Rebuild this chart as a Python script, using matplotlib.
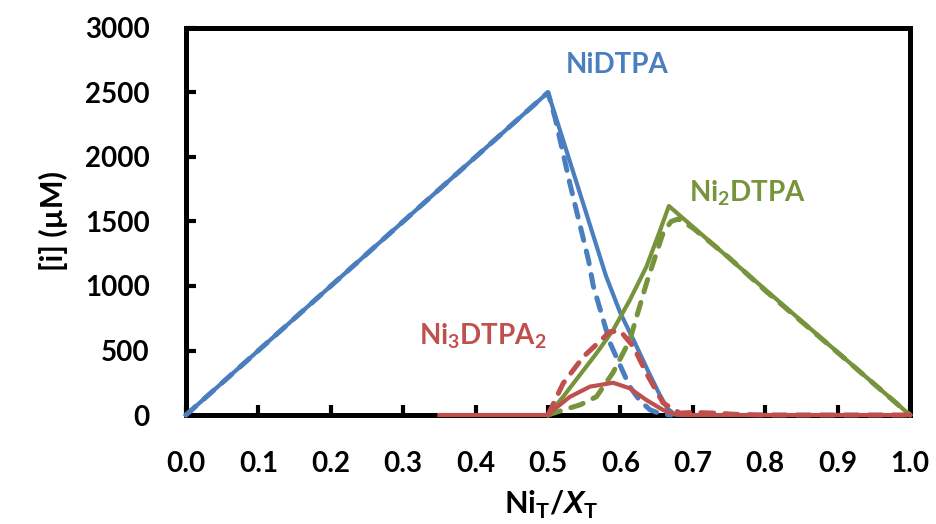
import matplotlib
matplotlib.use("Agg")
import matplotlib.pyplot as plt

# ---- data ----
blue_solid_x = [0.0, 0.5, 0.55, 0.58, 0.60, 0.62, 0.64, 0.655, 0.665, 0.675, 0.685]
blue_solid_y = [0, 2500, 1615, 1080, 790, 560, 320, 150, 50, 5, 0]

blue_dash_x = [0.0, 0.5, 0.51, 0.53, 0.556, 0.5626, 0.5856, 0.60, 0.613, 0.627, 0.641, 0.655, 0.67]
blue_dash_y = [0, 2500, 2300, 1800, 1200, 1000, 560, 380, 220, 110, 40, 10, 0]

green_solid_x = [0.5, 0.521, 0.544, 0.567, 0.59, 0.613, 0.636, 0.655, 0.667, 1.0]
green_solid_y = [0, 142, 310, 478, 659, 891, 1150, 1434, 1620, 0]

green_dash_x = [0.5, 0.521, 0.545, 0.567, 0.59, 0.613, 0.636, 0.659, 0.67, 0.68, 0.70, 0.75, 0.80, 0.90, 1.0]
green_dash_y = [0, 39, 80, 142, 330, 581, 1021, 1411, 1500, 1520, 1450, 1220, 965, 485, 0]

red_solid_x = [0.35, 0.5, 0.51, 0.53, 0.558, 0.59, 0.613, 0.636, 0.659, 0.675, 0.69, 1.0]
red_solid_y = [0, 0, 50, 140, 220, 250, 207, 116, 39, 5, 0, 0]

red_dash_x = [0.5, 0.521, 0.549, 0.5856, 0.60, 0.618, 0.636, 0.659, 0.682, 0.70, 0.73, 0.76, 0.80, 1.0]
red_dash_y = [0, 246, 452, 646, 650, 530, 323, 93, 15, 20, 15, 5, 0, 0]

x_ticks = [0.0, 0.1, 0.2, 0.3, 0.4, 0.5, 0.6, 0.7, 0.8, 0.9, 1.0]
x_tick_labels = ["0.0", "0.1", "0.2", "0.3", "0.4", "0.5", "0.6", "0.7", "0.8", "0.9", "1.0"]
y_ticks = [0, 500, 1000, 1500, 2000, 2500, 3000]

BLUE = "#4A7EBF"
GREEN = "#77933C"
RED = "#C0504D"

plt.rcParams["font.family"] = ["Lato", "DejaVu Sans"]
plt.rcParams["font.weight"] = "bold"
plt.rcParams["mathtext.fontset"] = "custom"
plt.rcParams["mathtext.rm"] = "Lato:bold"
plt.rcParams["mathtext.it"] = "Liberation Sans:bold:italic"
plt.rcParams["mathtext.bf"] = "Lato:bold"

fig = plt.figure(figsize=(9.36, 5.24), dpi=100)
ax = fig.add_axes([0.1987, 0.208, 0.9722 - 0.1987, 0.9466 - 0.208])

lw_s = 3.0
lw_d = 3.6
dash = (2.6, 2.2)

ax.plot(blue_dash_x, blue_dash_y, color=BLUE, lw=lw_d, dashes=dash, dash_capstyle="round", clip_on=False, zorder=3)
ax.plot(blue_solid_x, blue_solid_y, color=BLUE, lw=lw_s, clip_on=False, zorder=3)
ax.plot(green_dash_x, green_dash_y, color=GREEN, lw=lw_d, dashes=dash, dash_capstyle="round", clip_on=False, zorder=4)
ax.plot(green_solid_x, green_solid_y, color=GREEN, lw=lw_s, clip_on=False, zorder=4)
ax.plot(red_dash_x, red_dash_y, color=RED, lw=lw_d, dashes=dash, dash_capstyle="round", clip_on=False, zorder=5)
ax.plot(red_solid_x, red_solid_y, color=RED, lw=lw_s, clip_on=False, zorder=5)

ax.set_xlim(0, 1.0)
ax.set_ylim(0, 3000)
ax.set_xticks(x_ticks)
ax.set_xticklabels(x_tick_labels)
ax.set_yticks(y_ticks)

for s in ax.spines.values():
    s.set_linewidth(3.6)
    s.set_color("black")
    s.set_zorder(2)

ax.tick_params(axis="both", direction="in", length=7, width=3.0, color="black",
               labelsize=20)
ax.tick_params(axis="x", pad=26)
ax.tick_params(axis="y", pad=26)
ax.tick_params(top=False, right=False)
for lab in ax.get_xticklabels() + ax.get_yticklabels():
    lab.set_fontweight("bold")

ax.set_xlabel(r"Ni$_\mathrm{T}$/$\mathit{X}_\mathrm{T}$", fontsize=22, fontweight="bold", labelpad=2)
ax.xaxis.set_label_coords(0.505, -0.19)
ax.set_ylabel("[i] (\u00b5M)", fontsize=22, fontweight="bold", labelpad=12)

ax.text(0.596, 2713, "NiDTPA", color=BLUE, fontsize=20, fontweight="bold", ha="center", va="center")
ax.text(0.776, 1721, r"Ni$_\mathrm{2}$DTPA", color=GREEN, fontsize=20, fontweight="bold", ha="center", va="center")
ax.text(0.41, 607, r"Ni$_\mathrm{3}$DTPA$_\mathrm{2}$", color=RED, fontsize=20, fontweight="bold", ha="center", va="center")

fig.savefig("out.png", dpi=100)
